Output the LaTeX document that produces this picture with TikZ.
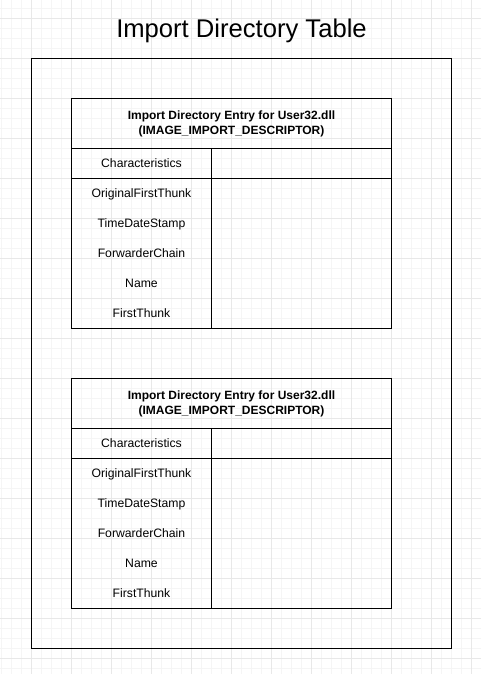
\documentclass[tikz,border=0pt]{standalone}
\usepackage{fontspec}
\setmainfont{Liberation Sans}
\begin{document}
\begin{tikzpicture}[x=1pt,y=-1pt,
  minorgrid/.style={draw=black!4, line width=1pt},
  majorgrid/.style={draw=black!9, line width=1pt},
  frame/.style={draw=black, line width=1pt, inner sep=0pt, outer sep=0pt, anchor=north west},
  headbox/.style={frame, minimum width=320pt, minimum height=50pt, align=center,
    font=\fontsize{12}{15}\selectfont\bfseries},
  keybox/.style={frame, minimum width=140pt, minimum height=30pt},
  valbox/.style={frame, minimum width=180pt},
  fieldbox/.style={frame, minimum width=140pt, minimum height=150pt},
  label/.style={anchor=base, inner sep=0pt, font=\fontsize{12.2}{14}\selectfont},
  titletext/.style={anchor=base, inner sep=0pt, font=\fontsize{25.6}{30}\selectfont}]
\useasboundingbox (0,0) rectangle (481,674);
\fill[white] (0,0) rectangle (481,674);
% background grid: fine lines every 10px, heavier every 40px
\foreach \x in {1.5,11.5,...,481} \draw[minorgrid] (\x,0) -- (\x,674);
\foreach \y in {8.5,18.5,...,674} \draw[minorgrid] (0,\y) -- (481,\y);
\foreach \x in {31.5,71.5,...,481} \draw[majorgrid] (\x,0) -- (\x,674);
\foreach \y in {18.5,58.5,...,674} \draw[majorgrid] (0,\y) -- (481,\y);

% title and outer container
\node[titletext] (title) at (241.5,37.9) {Import Directory Table};
\node[frame, minimum width=420pt, minimum height=590pt] (table) at (31.5,58.5) {};

% one IMAGE_IMPORT_DESCRIPTOR block per entry
\foreach \t/\oy in {1/98.5, 2/378.5} {
  \node[headbox] (head\t) at (71.5,\oy)
    {Import Directory Entry for User32.dll\\(IMAGE\_IMPORT\_DESCRIPTOR)};
  \node[keybox] (charkey\t) at (71.5,\oy+50) {};
  \node[valbox, minimum height=30pt] (charval\t) at (211.5,\oy+50) {};
  \node[fieldbox] (fields\t) at (71.5,\oy+80) {};
  \node[valbox, minimum height=150pt] (values\t) at (211.5,\oy+80) {};
  \node[label] (c\t) at (141.5,\oy+69.2) {Characteristics};
  \node[label] (oft\t) at (141.5,\oy+99.2) {OriginalFirstThunk};
  \node[label] (tds\t) at (141.5,\oy+129.2) {TimeDateStamp};
  \node[label] (fc\t) at (141.5,\oy+159.2) {ForwarderChain};
  \node[label] (nm\t) at (141.5,\oy+189.2) {Name};
  \node[label] (ft\t) at (141.5,\oy+219.2) {FirstThunk};
}
\end{tikzpicture}
\end{document}
